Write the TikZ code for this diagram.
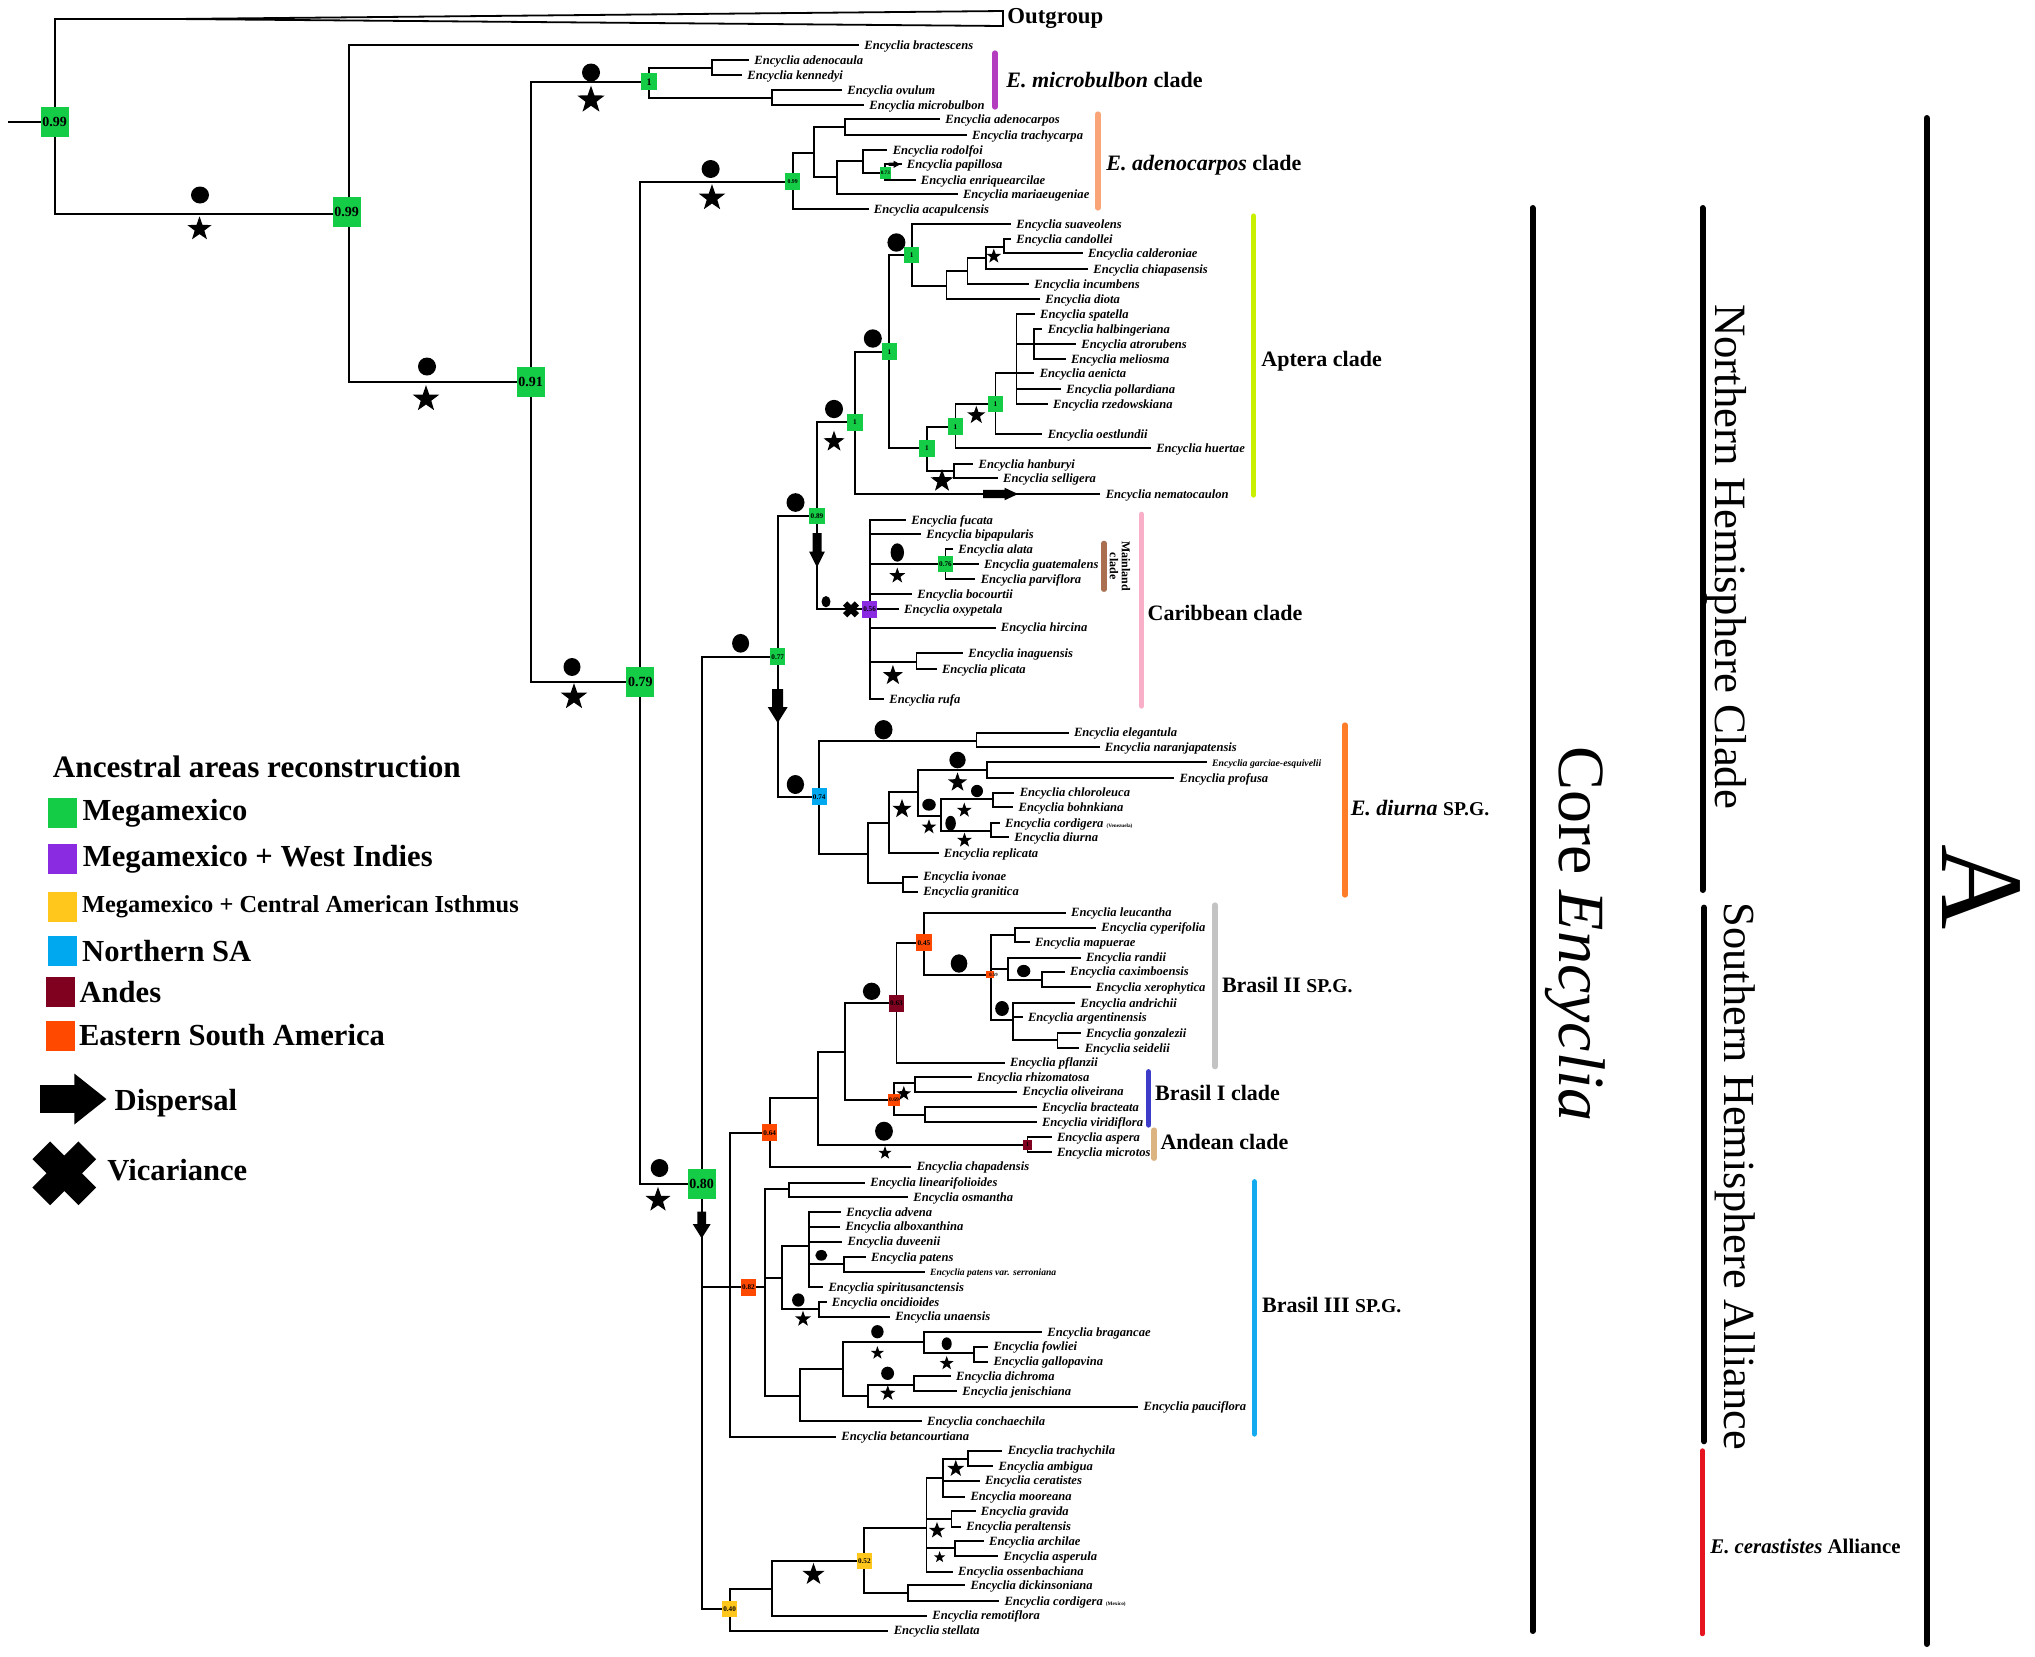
\documentclass[tikz,border=0pt]{standalone}
\usepackage{fontspec}
\setmainfont{Liberation Serif}
\usetikzlibrary{positioning, shapes.geometric}

\definecolor{megamx}{RGB}{20,204,70}
\definecolor{westind}{RGB}{138,43,226}
\definecolor{isthmus}{RGB}{255,199,28}
\definecolor{northsa}{RGB}{0,168,240}
\definecolor{andes}{RGB}{128,0,32}
\definecolor{eastsa}{RGB}{255,72,0}
\definecolor{cmicro}{RGB}{180,60,190}
\definecolor{cadeno}{RGB}{250,165,120}
\definecolor{captera}{RGB}{200,240,0}
\definecolor{cmain}{RGB}{170,110,80}
\definecolor{ccarib}{RGB}{250,175,200}
\definecolor{cdiurna}{RGB}{255,125,40}
\definecolor{cbrtwo}{RGB}{195,195,195}
\definecolor{cbrone}{RGB}{60,60,200}
\definecolor{candean}{RGB}{220,180,130}
\definecolor{cbrthree}{RGB}{20,170,240}
\definecolor{ccera}{RGB}{230,20,30}

\newcommand{\fsz}[1]{\fontsize{#1}{#1}\selectfont}
% tip of a branch + its name
\newcommand{\tx}[5][]{\coordinate (#2) at (#3,#4);
  \node[taxon,#1] (#2t) at (#2) {Encyclia #5};}
% dispersal arrow: x, y, angle, shaft, head, shaft half width, head half width
\newcommand{\disparrow}[7]{\fill[shift={(#1,#2)}, rotate=#3]
  (0,-#6) -- (#4,-#6) -- (#4,-#7) -- ({#4+#5},0) -- (#4,#7) -- (#4,#6) -- (0,#6) -- cycle;}
\newcommand{\vicx}[4]{\draw[line width=#4] (#1-#3,#2-#3) -- (#1+#3,#2+#3) (#1-#3,#2+#3) -- (#1+#3,#2-#3);}

\begin{document}
\begin{tikzpicture}[x=0.5pt, y=-0.5pt,
    br/.style={line width=0.9pt},
    taxon/.style={anchor=base west, yshift=-2.1pt, inner xsep=2.5pt, inner ysep=0pt, font=\fsz{6.3}\bfseries\itshape},
    ppL/.style={rectangle, inner sep=0pt, minimum width=14pt, minimum height=15pt, font=\fsz{7}\bfseries},
    ppM/.style={rectangle, inner sep=0pt, minimum width=7.7pt, minimum height=8.3pt, font=\fsz{3.6}\bfseries},
    dotm/.style={ellipse, fill=black, inner sep=0pt},
    starm/.style={star, star points=5, star point ratio=2.5, fill=black, inner sep=0pt},
    cbar/.style={line width=2.6pt, line cap=round},
    clab/.style={anchor=west, inner sep=0pt, font=\fsz{11}\bfseries},
    sidebar/.style={line width=3pt, line cap=round},
    legsq/.style={rectangle, inner sep=0pt, minimum width=14.5pt, minimum height=15pt},
    legtx/.style={inner sep=0pt, font=\fsz{15.3}\bfseries}]

\fill[white] (0,0) rectangle (2035,1656);

% backbone
\coordinate (rstub) at (8,121.7);
\coordinate (root) at (54.7,121.7);
\coordinate (og) at (175,19);
\coordinate (ogt) at (1003,11);
\coordinate (ogb) at (1003,26);
\coordinate (n099b) at (348.6,214);
\coordinate (n091) at (530.6,381.7);
\coordinate (n079) at (640.3,682);
\coordinate (n080) at (701.7,1184);
\coordinate (n077) at (777.7,656.7);
\coordinate (n089) at (817,516);
\coordinate (n730) at (730.3,1286.7);
\coordinate (n040) at (729.6,1609);

% E. microbulbon clade
\coordinate (nmic) at (649,81.7);
\coordinate (nmicA) at (712,68.3);
\coordinate (nmicB) at (771.7,97.7);
\tx{bract}{859}{45}{bractescens}
\tx{adenocaula}{749}{60.3}{adenocaula}
\tx{kennedyi}{742}{75}{kennedyi}
\tx{ovulum}{842}{90}{ovulum}
\tx{microbulbon}{864}{105}{microbulbon}

% E. adenocarpos clade
\coordinate (nade) at (792.7,181.7);
\coordinate (nadeA) at (813.8,152.7);
\coordinate (nadeB) at (845.3,126.7);
\coordinate (nadeC) at (837,176.7);
\coordinate (nadeD) at (862.9,160.7);
\coordinate (nadeE) at (885.3,172.7);
\tx{adenocarpos}{940}{119.3}{adenocarpos}
\tx{trachycarpa}{966.7}{135}{trachycarpa}
\tx{rodolfoi}{887.4}{150}{rodolfoi}
\tx{papillosa}{901.5}{164.3}{papillosa}
\tx{enriquearcilae}{915.5}{180}{enriquearcilae}
\tx{mariaeugeniae}{957.6}{194}{mariaeugeniae}
\tx{acapulcensis}{868.5}{209.3}{acapulcensis}

% Aptera clade
\coordinate (napt) at (855,422.3);
\coordinate (naptA) at (889.3,351.7);
\coordinate (naptB) at (911.6,255);
\coordinate (naptC) at (946.4,285.7);
\coordinate (naptD) at (967.4,271);
\coordinate (naptE) at (985.7,258.3);
\coordinate (naptF) at (1003.6,246.7);
\coordinate (naptG) at (926.8,448.3);
\coordinate (naptH) at (955.4,426.7);
\coordinate (naptI) at (995.5,404);
\coordinate (naptJ) at (1016.5,373.3);
\coordinate (naptK) at (1034,344);
\coordinate (naptL) at (954,470.7);
\tx{suaveolens}{1011}{224.3}{suaveolens}
\tx{candollei}{1011}{239.3}{candollei}
\tx{calderoniae}{1082.6}{253.3}{calderoniae}
\tx{chiapasensis}{1088}{269.3}{chiapasensis}
\tx{incumbens}{1029}{284.3}{incumbens}
\tx{diota}{1040}{299}{diota}
\tx{spatella}{1034.8}{314.3}{spatella}
\tx{halbingeriana}{1042.4}{329.3}{halbingeriana}
\tx{atrorubens}{1076}{344}{atrorubens}
\tx{meliosma}{1065.6}{359}{meliosma}
\tx{aenicta}{1034.4}{373.3}{aenicta}
\tx{pollardiana}{1061}{389}{pollardiana}
\tx{rzedowskiana}{1047.8}{404}{rzedowskiana}
\tx{oestlundii}{1042.4}{434}{oestlundii}
\tx{huertae}{1150.9}{448.3}{huertae}
\tx{hanburyi}{973.2}{464}{hanburyi}
\tx{selligera}{997.8}{478.3}{selligera}
\tx{nematocaulon}{1100.4}{494}{nematocaulon}

% Caribbean clade
\coordinate (ncar) at (869.6,609.3);
\coordinate (ncarA) at (945.5,564);
\coordinate (ncarB) at (916.5,661.7);
\tx{fucata}{906}{520}{fucata}
\tx{bipapularis}{921}{534.3}{bipapularis}
\tx{alata}{953}{549.3}{alata}
\tx{guatemalens}{978.6}{564}{guatemalens}
\tx{parviflora}{975.4}{579.3}{parviflora}
\tx{bocourtii}{912}{594}{bocourtii}
\tx{oxypetala}{898.7}{609.3}{oxypetala}
\tx{hircina}{995.5}{627.7}{hircina}
\tx{inaguensis}{963}{653.3}{inaguensis}
\tx{plicata}{936.6}{669}{plicata}
\tx{rufa}{884}{699.3}{rufa}

% E. diurna
\coordinate (ndiu) at (819.2,796.7);
\coordinate (ndiuA) at (976.4,741);
\coordinate (ndiuB) at (868,854);
\coordinate (ndiuC) at (888.6,822.7);
\coordinate (ndiuD) at (917.9,792.3);
\coordinate (ndiuE) at (987.3,770);
\coordinate (ndiuF) at (941.2,816);
\coordinate (ndiuG) at (992.7,799.3);
\coordinate (ndiuH) at (991,830.7);
\coordinate (ndiuI) at (903.3,883.3);
\tx{elegantula}{1068.6}{732.7}{elegantula}
\tx{naranjapatensis}{1099.5}{747.3}{naranjapatensis}
\tx[font=\fsz{4.9}\bfseries\itshape]{garciae}{1206.8}{762.3}{garciae-esquivelii}
\tx{profusa}{1174.3}{778.3}{profusa}
\tx{chloroleuca}{1014.4}{792.7}{chloroleuca}
\tx{bohnkiana}{1013.3}{807.3}{bohnkiana}
\tx{cordigeraV}{999.7}{823.3}{cordigera {\fsz{2.6}\upshape(Venezuela)}}
\tx{diurna}{1009}{837.3}{diurna}
\tx{replicata}{938.5}{853.3}{replicata}
\tx{ivonae}{917.9}{876.7}{ivonae}
\tx{granitica}{917.9}{891.7}{granitica}

% Brasil II, Brasil I, Andean
\coordinate (n064) at (769.7,1132.7);
\coordinate (nbrA) at (818.2,1098.3);
\coordinate (nbrB) at (845.1,1051.7);
\coordinate (n063) at (896.5,1003.3);
\coordinate (n045) at (923.9,942.7);
\coordinate (n059) at (991,975);
\coordinate (nbrC) at (1015,935);
\coordinate (nbrD) at (1007.6,969);
\coordinate (nbrE) at (1042,980);
\coordinate (nbrF) at (1013,1020);
\coordinate (nbrG) at (1057.4,1040);
\coordinate (n069) at (894,1100);
\coordinate (nbrH) at (914.8,1083.3);
\coordinate (nbrI) at (924.7,1115);
\coordinate (nand) at (1027.5,1145);
\tx{leucantha}{1065.7}{912.7}{leucantha}
\tx{cyperifolia}{1096}{927.7}{cyperifolia}
\tx{mapuerae}{1029.6}{942.3}{mapuerae}
\tx{randii}{1080.6}{957.7}{randii}
\tx{caximboensis}{1064.8}{971.7}{caximboensis}
\tx{xerophytica}{1090.5}{987.3}{xerophytica}
\tx{andrichii}{1075.2}{1003.3}{andrichii}
\tx{argentinensis}{1022.6}{1017.3}{argentinensis}
\tx{gonzalezii}{1080.6}{1033.3}{gonzalezii}
\tx{seidelii}{1079.4}{1048.3}{seidelii}
\tx{pflanzii}{1004.7}{1062.7}{pflanzii}
\tx{rhizomatosa}{971.6}{1077.3}{rhizomatosa}
\tx{oliveirana}{1017.2}{1091.7}{oliveirana}
\tx{bracteata}{1036.6}{1107.3}{bracteata}
\tx{viridiflora}{1036.6}{1122.3}{viridiflora}
\tx{aspera}{1051.6}{1137.3}{aspera}
\tx{microtos}{1051.6}{1152.3}{microtos}
\tx{chapadensis}{911.4}{1166.7}{chapadensis}

% Brasil III
\coordinate (n082) at (765.1,1286.7);
\coordinate (nbtA) at (789.1,1189.3);
\coordinate (nbtB) at (782.1,1278.3);
\coordinate (nbtC) at (808.6,1246);
\coordinate (nbtD) at (843.9,1264.3);
\coordinate (nbtE) at (819,1309);
\coordinate (nbtF) at (800.3,1395.7);
\coordinate (nbtG) at (843,1369.3);
\coordinate (nbtH) at (923.9,1342.3);
\coordinate (nbtI) at (973.6,1353.3);
\coordinate (nbtJ) at (867.9,1395.7);
\coordinate (nbtK) at (914.3,1385);
\tx{linearifolioides}{865}{1182.7}{linearifolioides}
\tx{osmantha}{908}{1197.3}{osmantha}
\tx{advena}{841}{1212.3}{advena}
\tx{alboxanthina}{840.1}{1226.7}{alboxanthina}
\tx{duveenii}{842.2}{1241.7}{duveenii}
\tx{patens}{865.8}{1257.3}{patens}
\tx[font=\fsz{4.8}\bfseries\itshape]{serroniana}{924.7}{1271.7}{patens var. serroniana}
\tx{spiritusanctensis}{823.1}{1287.3}{spiritusanctensis}
\tx{oncidioides}{826.5}{1302.3}{oncidioides}
\tx{unaensis}{889.9}{1316.7}{unaensis}
\tx{bragancae}{1042}{1332.3}{bragancae}
\tx{fowliei}{988.1}{1346.7}{fowliei}
\tx{gallopavina}{988.1}{1361.7}{gallopavina}
\tx{dichroma}{950.8}{1376}{dichroma}
\tx{jenischiana}{957}{1391}{jenischiana}
\tx{pauciflora}{1138.2}{1406.7}{pauciflora}
\tx{conchaechila}{921.8}{1421}{conchaechila}
\tx{betancourtiana}{836}{1436.7}{betancourtiana}

% E. cerastistes alliance
\coordinate (ncerA) at (772.3,1589);
\coordinate (n052) at (864.3,1561);
\coordinate (ncerB) at (908.3,1593.3);
\coordinate (ncerC) at (926.5,1528.3);
\coordinate (ncerD) at (943.1,1478.3);
\coordinate (ncerE) at (968,1459);
\coordinate (ncerF) at (951.4,1519.3);
\coordinate (ncerG) at (954.7,1548.3);
\tx{trachychila}{1002.4}{1450.7}{trachychila}
\tx{ambigua}{993.3}{1466}{ambigua}
\tx{ceratistes}{979.6}{1480.7}{ceratistes}
\tx{mooreana}{965.1}{1496.7}{mooreana}
\tx{gravida}{975.5}{1511}{gravida}
\tx{peraltensis}{961}{1526.7}{peraltensis}
\tx{archilae}{983.7}{1541}{archilae}
\tx{asperula}{998.3}{1556}{asperula}
\tx{ossenbachiana}{952.7}{1571.7}{ossenbachiana}
\tx{dickinsoniana}{965.1}{1585}{dickinsoniana}
\tx{cordigeraM}{999.1}{1601}{cordigera {\fsz{2.6}\upshape(Mexico)}}
\tx{remotiflora}{927}{1615.7}{remotiflora}
\tx{stellata}{888.4}{1630.7}{stellata}

% branches
\draw[br] (rstub) -- (root);
\draw[br] (root) |- (og);
\draw[br] (og) -- (ogt) -- (ogb) -- cycle;
\foreach \pn/\cn in {root/n099b, n099b/bract, n099b/n091, n091/nmic, n091/n079,
    nmic/nmicA, nmic/nmicB, nmicA/adenocaula, nmicA/kennedyi, nmicB/ovulum, nmicB/microbulbon,
    n079/nade, n079/n080, nade/nadeA, nade/acapulcensis, nadeA/nadeB, nadeA/nadeC,
    nadeB/adenocarpos, nadeB/trachycarpa, nadeC/nadeD, nadeC/mariaeugeniae,
    nadeD/rodolfoi, nadeD/nadeE, nadeE/papillosa, nadeE/enriquearcilae}
  \draw[br] (\pn) |- (\cn);
\foreach \pn/\cn in {n080/n077, n080/n730, n080/n040, n077/n089, n077/ndiu, n089/napt, n089/ncar,
    napt/naptA, napt/nematocaulon, naptA/naptB, naptA/naptG, naptB/suaveolens, naptB/naptC,
    naptC/naptD, naptC/diota, naptD/naptE, naptD/incumbens, naptE/naptF, naptE/chiapasensis,
    naptF/candollei, naptF/calderoniae, naptG/naptH, naptG/naptL, naptH/naptI, naptH/huertae,
    naptI/naptJ, naptI/oestlundii, naptJ/spatella, naptJ/naptK, naptJ/aenicta, naptJ/pollardiana,
    naptJ/rzedowskiana, naptK/halbingeriana, naptK/atrorubens, naptK/meliosma,
    naptL/hanburyi, naptL/selligera}
  \draw[br] (\pn) |- (\cn);
\foreach \pn/\cn in {ncar/fucata, ncar/bipapularis, ncar/ncarA, ncar/bocourtii, ncar/oxypetala,
    ncar/hircina, ncar/ncarB, ncar/rufa, ncarA/alata, ncarA/guatemalens, ncarA/parviflora,
    ncarB/inaguensis, ncarB/plicata,
    ndiu/ndiuA, ndiu/ndiuB, ndiuA/elegantula, ndiuA/naranjapatensis, ndiuB/ndiuC, ndiuB/ndiuI,
    ndiuC/ndiuD, ndiuC/replicata, ndiuD/ndiuE, ndiuD/ndiuF, ndiuE/garciae, ndiuE/profusa,
    ndiuF/ndiuG, ndiuF/ndiuH, ndiuG/chloroleuca, ndiuG/bohnkiana, ndiuH/cordigeraV, ndiuH/diurna,
    ndiuI/ivonae, ndiuI/granitica}
  \draw[br] (\pn) |- (\cn);
\foreach \pn/\cn in {n730/n064, n730/n082, n730/betancourtiana, n064/nbrA, n064/chapadensis,
    nbrA/nbrB, nbrA/nand, nbrB/n063, nbrB/n069, n063/n045, n063/pflanzii, n045/leucantha, n045/n059,
    n059/nbrC, n059/nbrD, n059/nbrF, nbrC/cyperifolia, nbrC/mapuerae, nbrD/randii, nbrD/nbrE,
    nbrE/caximboensis, nbrE/xerophytica, nbrF/andrichii, nbrF/argentinensis, nbrF/nbrG,
    nbrG/gonzalezii, nbrG/seidelii, n069/nbrH, n069/nbrI, nbrH/rhizomatosa, nbrH/oliveirana,
    nbrI/bracteata, nbrI/viridiflora, nand/aspera, nand/microtos}
  \draw[br] (\pn) |- (\cn);
\foreach \pn/\cn in {n082/nbtA, n082/nbtB, n082/nbtF, nbtA/linearifolioides, nbtA/osmantha,
    nbtB/nbtC, nbtB/nbtE, nbtC/advena, nbtC/alboxanthina, nbtC/duveenii, nbtC/nbtD,
    nbtC/spiritusanctensis, nbtD/patens, nbtD/serroniana, nbtE/oncidioides, nbtE/unaensis,
    nbtF/nbtG, nbtF/conchaechila, nbtG/nbtH, nbtG/nbtJ, nbtH/bragancae, nbtH/nbtI,
    nbtI/fowliei, nbtI/gallopavina, nbtJ/nbtK, nbtJ/pauciflora, nbtK/dichroma, nbtK/jenischiana,
    n040/ncerA, n040/stellata, ncerA/n052, ncerA/remotiflora, n052/ncerC, n052/ncerB,
    ncerB/dickinsoniana, ncerB/cordigeraM, ncerC/ncerD, ncerC/ncerF, ncerC/ncerG,
    ncerC/ossenbachiana, ncerD/ncerE, ncerD/ceratistes, ncerD/mooreana, ncerE/trachychila,
    ncerE/ambigua, ncerF/gravida, ncerF/peraltensis, ncerG/archilae, ncerG/asperula}
  \draw[br] (\pn) |- (\cn);

% ancestral area boxes
\node[ppL, fill=megamx] (b099a) at (root) {0.99};
\node[ppL, fill=megamx] (b099b) at (346.6,212) {0.99};
\node[ppL, fill=megamx] (b091) at (n091) {0.91};
\node[ppL, fill=megamx] (b079) at (n079) {0.79};
\node[ppL, fill=megamx] (b080) at (n080) {0.80};
\node[ppM, fill=megamx, font=\fsz{5}\bfseries] (bmic) at (nmic) {1};
\node[ppM, fill=megamx, font=\fsz{2.9}\bfseries] (bade) at (nade) {0.99};
\node[ppM, fill=megamx, minimum width=5.2pt, minimum height=6pt, font=\fsz{2.6}\bfseries] (b073) at (nadeE) {0.73};
\foreach \nn in {napt, naptA, naptB, naptG, naptH, naptI}
  \node[ppM, fill=megamx] (b\nn) at (\nn) {1};
\node[ppM, fill=megamx] (b089) at (n089) {0.89};
\node[ppM, fill=megamx] (b077) at (n077) {0.77};
\node[ppM, fill=westind] (b056) at (ncar) {0.56};
\node[ppM, fill=megamx] (b076) at (ncarA) {0.76};
\node[ppM, fill=northsa] (b074) at (ndiu) {0.74};
\node[ppM, fill=eastsa] (b045) at (n045) {0.45};
\node[ppM, fill=andes] (b063) at (n063) {0.63};
\node[ppM, fill=eastsa, minimum width=3.7pt, minimum height=3.7pt] (b059) at (989.8,974.7) {};
\node[inner sep=0pt, font=\fsz{2.4}\bfseries] (t059) at (993.5,975) {0.59};
\node[ppM, fill=eastsa, minimum width=5.8pt, minimum height=6.3pt, font=\fsz{2.8}\bfseries] (b069) at (n069) {0.69};
\node[ppM, fill=eastsa] (b064) at (n064) {0.64};
\node[ppM, fill=andes, minimum width=4.5pt, minimum height=5pt, font=\fsz{3}\bfseries] (band) at (nand) {1};
\node[ppM, fill=eastsa] (b082) at (748.5,1287.5) {0.82};
\node[ppM, fill=isthmus] (b040) at (n040) {0.40};
\node[ppM, fill=isthmus] (b052) at (n052) {0.52};

% circles and stars
\foreach \x/\y/\w/\h [count=\i] in {200/195/18/17, 427/366.5/18/18, 591/72.5/18/18, 710.6/169/18/18,
    572/667/17/18, 659.5/1168/17.6/18, 740.6/643.3/17/18.7, 795.5/502.5/18/18.7, 834/409/18/18.3,
    872.8/338.5/18/18.4, 896.4/242.5/18/18.4, 826/601.7/9/11.3, 897.3/552.5/13.4/18.4,
    883.5/729.7/18/19.3, 795.4/784.5/17.3/19, 957.5/760/16.3/16.6, 977/791/12/12.3,
    929/804.7/13.5/12, 950.6/823.3/10.5/15, 959/963.5/16.6/18.4, 1023.7/971/13.3/12.3,
    1002/1008.5/13.7/15, 871.6/991.3/17.4/17.3, 884/1131.2/17.8/19, 821.3/1255.3/12/10.7,
    798.3/1300/12.4/13.3, 877.4/1331.7/12.4/13.3, 946.7/1343.7/10/12.7, 887.6/1373.3/12.9/13.3}
  \node[dotm, minimum width=\w*0.5pt, minimum height=\h*0.5pt] (dot\i) at (\x,\y) {};
\foreach \x/\y/\s [count=\i] in {199.5/229/23, 426/399/25, 591/100/26, 712/198/25, 574/697/25,
    658/1200/23.7, 834/441.7/20, 993.8/256.3/14, 976.3/415.3/17.3, 942/481/21.7, 897.3/575.8/15,
    892.9/675.5/19, 957.5/782.5/18.4, 964.3/810.3/14, 929/827/14, 964.5/840.3/14, 902/809/18.3,
    903.8/1093.7/14, 885/1153/12.6, 803/1319/15, 877.4/1353/12.6, 946.7/1363.3/13.3,
    887.8/1393.3/14.7, 813.5/1574.5/21, 955.8/1468.7/16, 937/1530.5/15.6, 939.6/1557.2/11}
  \node[starm, minimum size=\s*0.553pt] (st\i) at (\x,\y) {};

% dispersal and vicariance
\disparrow{983}{494}{0}{21.5}{13.5}{4.2}{6.3}
\disparrow{888.5}{164.3}{0}{5}{7}{1.6}{3.6}
\disparrow{817}{533}{-90}{18.7}{15.6}{4.5}{7.8}
\disparrow{777.7}{689}{-90}{18}{16}{5.5}{10}
\disparrow{701.7}{1211.7}{-90}{12.3}{14.3}{4.4}{9}
\vicx{851}{609.3}{5.9}{3pt}

% clade bars and names
\draw[cbar, cmicro] (995,53) -- (995,107);
\draw[cbar, cadeno] (1098,114) -- (1098,208);
\draw[cbar, captera] (1253.6,216) -- (1253.6,495);
\draw[cbar, cmain] (1104,543.3) -- (1104,589.3);
\draw[cbar, ccarib] (1141.5,514.3) -- (1141.5,706);
\draw[cbar, cdiurna] (1345,725) -- (1345,895);
\draw[cbar, cbrtwo] (1215,905) -- (1215,1066.7);
\draw[cbar, cbrone] (1148.6,1071.7) -- (1148.6,1125);
\draw[cbar, candean] (1154,1130) -- (1154,1158.3);
\draw[cbar, cbrthree] (1254.3,1181.7) -- (1254.3,1434);

\node[anchor=west, inner sep=0pt, font=\fsz{11.4}\bfseries] (outg) at (1007,18.5) {Outgroup};
\node[clab] (lmicro) at (1006,80) {\textit{E. microbulbon} clade};
\node[clab] (ladeno) at (1106,165) {\textit{E. adenocarpos} clade};
\node[clab] (lapt) at (1261,361) {Aptera clade};
\node[rotate=-90, align=center, inner sep=0pt, font=\fsz{6}\bfseries] (lmain) at (1120,566) {Mainland\\clade};
\node[clab] (lcarib) at (1147.3,612.7) {Caribbean clade};
\node[clab] (ldiurna) at (1350.4,808.3) {\textit{E. diurna} {\fsz{9.8}SP.G.}};
\node[clab] (lbrtwo) at (1221.6,985) {Brasil II {\fsz{9.8}SP.G.}};
\node[clab] (lbrone) at (1154.8,1093.3) {Brasil I clade};
\node[clab] (landean) at (1160.2,1141.7) {Andean clade};
\node[clab] (lbrthree) at (1261.8,1305) {Brasil III {\fsz{9.8}SP.G.}};

% groups on the right
\draw[sidebar] (1532.5,208) -- (1532.5,1631);
\draw[sidebar] (1702.5,208) -- (1702.5,890);
\draw[sidebar] (1704,907.6) -- (1704,1441.3);
\draw[sidebar, ccera, line width=2.2pt] (1702.4,1450.5) -- (1702.4,1634);
\draw[sidebar] (1926.6,118) -- (1926.6,1644);
\node[rotate=-90, inner sep=0pt, font=\fsz{33}] (lcore) at (1575,934) {Core \textit{Encyclia}};
\node[rotate=-90, inner sep=0pt, font=\fsz{22.4}] (lnorth) at (1726,556.6) {Northern Hemisphere Clade};
\node[rotate=-90, inner sep=0pt, font=\fsz{22.2}] (lsouth) at (1735,1176.5) {Southern Hemisphere Alliance};
\node[anchor=west, inner sep=0pt, font=\fsz{10.4}\bfseries] (lcera) at (1710,1546.7) {\textit{E. cerastistes} Alliance};
\node[rotate=-90, inner sep=0pt, font=\fsz{59}] (lbigA) at (1981,887) {A};

% legend
\node[anchor=west, inner sep=0pt, font=\fsz{15.6}\bfseries] (legtitle) at (52.5,766.7) {Ancestral areas reconstruction};
\node[legsq, fill=megamx] (sqmeg) at (62.9,812.8) {};
\node[legtx, right=2.2pt of sqmeg] (txmeg) {Megamexico};
\node[legsq, fill=westind] (sqwest) at (62.5,859.2) {};
\node[legtx, right=2.6pt of sqwest] (txwest) {Megamexico + West Indies};
\node[legsq, fill=isthmus] (sqisth) at (62.7,906.7) {};
\node[legtx, right=2pt of sqisth, font=\fsz{12.2}\bfseries] (txisth) {Megamexico + Central American Isthmus};
\node[legsq, fill=northsa] (sqnsa) at (62.5,950.8) {};
\node[legtx, right=2.2pt of sqnsa] (txnsa) {Northern SA};
\node[legsq, fill=andes] (sqand) at (60.7,992.2) {};
\node[legtx, right=1.8pt of sqand] (txand) {Andes};
\node[legsq, fill=eastsa] (sqesa) at (60.7,1035.5) {};
\node[legtx, right=1.5pt of sqesa] (txesa) {Eastern South America};
\disparrow{40}{1099}{0}{34.3}{32.1}{13.8}{25.5}
\node[legtx, anchor=west] (txdisp) at (114.3,1103.3) {Dispersal};
\vicx{64.3}{1173.3}{23}{12.5pt}
\node[legtx, anchor=west] (txvic) at (107,1170) {Vicariance};
\end{tikzpicture}
\end{document}
